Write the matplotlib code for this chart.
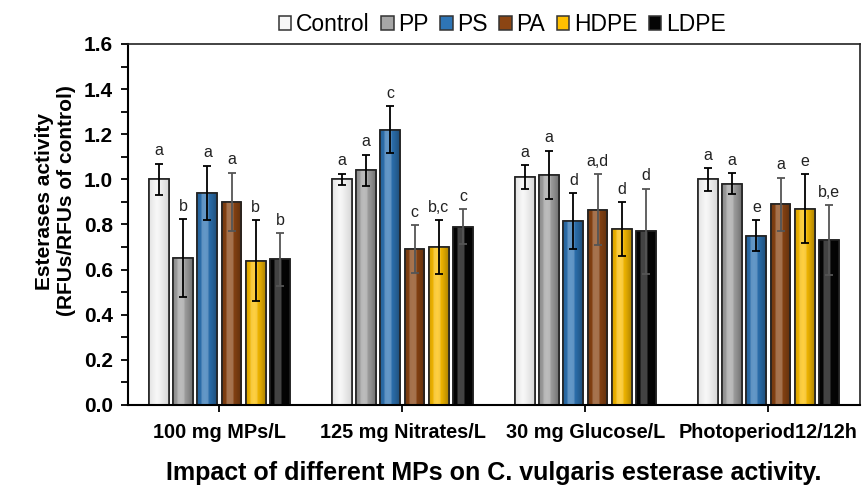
import numpy as np
import matplotlib.pyplot as plt
from matplotlib.ticker import MultipleLocator
from matplotlib.colors import to_rgb

plt.rcParams['font.family'] = ['Liberation Sans', 'DejaVu Sans']

# Datos
grupos = ["100 mg MPs/L", "125 mg Nitrates/L", "30 mg Glucose/L", "Photoperiod12/12h"]
series = ["Control", "PP", "PS", "PA", "HDPE", "LDPE"]

control = [1.00, 1.00, 1.01, 1.00]
pp      = [0.65, 1.04, 1.02, 0.98]
ps      = [0.94, 1.22, 0.815, 0.75]
pa      = [0.90, 0.69, 0.865, 0.89]
hdpe    = [0.64, 0.70, 0.78, 0.87]
ldpe    = [0.645, 0.79, 0.77, 0.73]

err_control = [0.07, 0.025, 0.053, 0.05]
err_pp      = [0.173, 0.07, 0.107, 0.047]
err_ps      = [0.12, 0.103, 0.124, 0.069]
err_pa      = [0.128, 0.106, 0.157, 0.118]
err_hdpe    = [0.178, 0.118, 0.119, 0.152]
err_ldpe    = [0.117, 0.077, 0.188, 0.155]

letras_control = ["a", "a", "a", "a"]
letras_pp      = ["b", "a", "a", "a"]
letras_ps      = ["a", "c", "d", "e"]
letras_pa      = ["a", "c", "a,d", "a"]
letras_hdpe    = ["b", "b,c", "d", "e"]
letras_ldpe    = ["b", "c", "d", "b,e"]

valores = [control, pp, ps, pa, hdpe, ldpe]
errores = [err_control, err_pp, err_ps, err_pa, err_hdpe, err_ldpe]
letras = [letras_control, letras_pp, letras_ps, letras_pa, letras_hdpe, letras_ldpe]
colores = ["#f7f7f7", "#a6a6a6", "#2e75b6", "#8b4513", "#ffc000", "#050505"]
color_err = ["k", "k", "k", "#555555", "k", "#555555"]

fig, ax = plt.subplots(figsize=(8.63, 4.96), dpi=100)
fig.subplots_adjust(left=0.1483, right=0.9965, bottom=0.1835, top=0.9113)

x = np.arange(len(grupos))
paso = 0.1325
ancho = 0.108

for i, nombre in enumerate(series):
    pos = x + (i - 2.5) * paso
    barras = ax.bar(pos, valores[i], ancho, color=colores[i], edgecolor="#333333",
                    linewidth=1.1, label=nombre, zorder=2)
    # Sombreado tipo bisel dentro de cada barra
    base = np.array(to_rgb(colores[i]))
    t = np.linspace(0, 1, 40)
    factor = 1.0 - 0.35 * np.abs(t - 0.4) ** 1.5 * 2
    luz = np.clip(base[None, :] * factor[:, None] + (1 - base[None, :]) * 0.25 * (factor[:, None] > 0.95), 0, 1)
    if i == 0:
        luz = np.clip(np.array([0.97, 0.97, 0.97])[None, :] * (1 - 0.25 * np.abs(t - 0.4)[:, None] ** 1.2), 0, 1)
    for b in barras:
        bx, by, bw, bh = b.get_x(), b.get_y(), b.get_width(), b.get_height()
        im = ax.imshow(luz[None, :, :], extent=(bx, bx + bw, by, by + bh),
                       aspect="auto", zorder=2.1, interpolation="bilinear")
        im.set_clip_path(b)
    ax.bar(pos, valores[i], ancho, color="none", edgecolor="#222222", linewidth=1.2, zorder=2.2)
    ax.errorbar(pos, valores[i], yerr=errores[i], fmt="none", ecolor=color_err[i],
                elinewidth=1.3, capsize=3, capthick=1.3, zorder=3)
    for xp, v, e, l in zip(pos, valores[i], errores[i], letras[i]):
        ax.annotate(l, (xp, v + e), xytext=(0, 4), textcoords="offset points",
                    ha="center", va="bottom", fontsize=11.5, color="#222222")

ax.set_xlim(-0.5, 3.5)
ax.set_ylim(0, 1.6)
ax.set_xticks(x)
ax.set_xticklabels(grupos, fontsize=14.3, fontweight="bold")
ax.yaxis.set_major_locator(MultipleLocator(0.2))
ax.yaxis.set_minor_locator(MultipleLocator(0.1))
ax.yaxis.set_major_formatter(plt.FuncFormatter(lambda v, p: f"{v:.1f}"))
for lab in ax.get_yticklabels():
    lab.set_fontweight("bold")
    lab.set_fontsize(15)
ax.tick_params(axis="y", which="both", direction="out", length=5, width=1.3, pad=6)
ax.tick_params(axis="x", direction="out", length=5, width=1.3, pad=8)

for lado in ["left", "bottom"]:
    ax.spines[lado].set_linewidth(1.5)
    ax.spines[lado].set_color("k")
for lado in ["top", "right"]:
    ax.spines[lado].set_linewidth(1.2)
    ax.spines[lado].set_color("#222222")

ax.set_ylabel("Esterases activity\n(RFUs/RFUs of control)", fontsize=15, fontweight="bold", labelpad=5)
ax.yaxis.set_label_coords(-0.071, 0.565)
ax.set_xlabel("Impact of different MPs on C. vulgaris esterase activity.", fontsize=18,
              fontweight="bold", labelpad=14)

ax.legend(loc="center", bbox_to_anchor=(0.582, 0.95), bbox_transform=fig.transFigure,
          ncol=6, frameon=False, fontsize=16.5, handlelength=0.55, handleheight=0.55,
          handletextpad=0.2, columnspacing=0.5, borderpad=0)

fig.savefig("out.png", dpi=100, facecolor="w")
plt.close(fig)
